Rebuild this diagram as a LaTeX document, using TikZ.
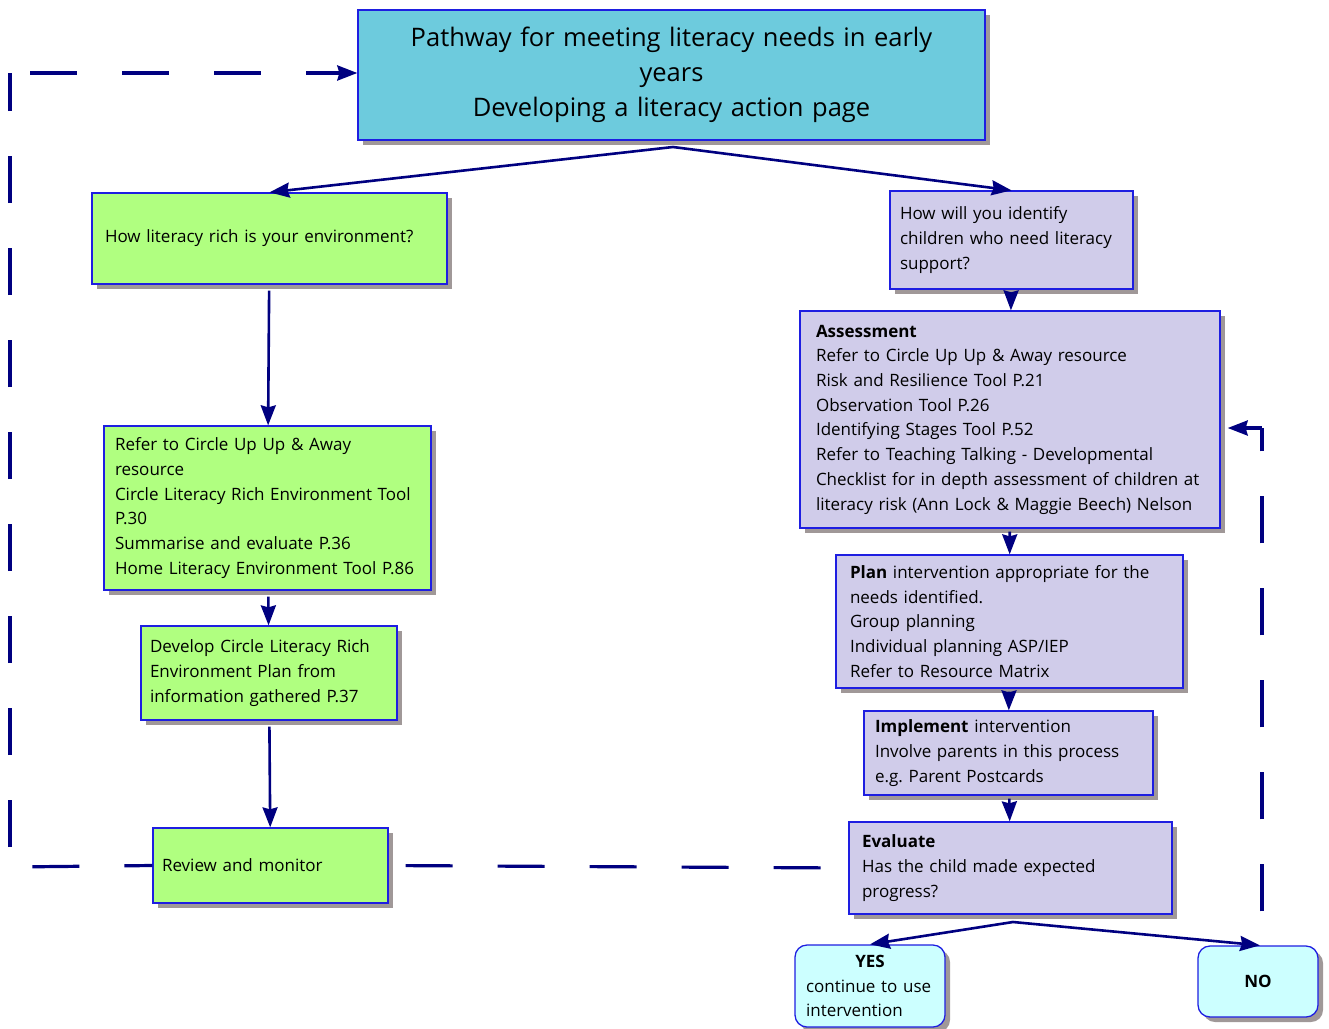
\documentclass[tikz,border=0pt]{standalone}
\usepackage{fontspec}
\setmainfont{Open Sans}
\usepackage{tikz}
\usetikzlibrary{arrows.meta, shadows}
\usepackage{xcolor}

\definecolor{titlecyan}{RGB}{109,203,221}
\definecolor{envgreen}{RGB}{176,255,128}
\definecolor{lilac}{RGB}{208,204,234}
\definecolor{answercyan}{RGB}{204,255,255}
\definecolor{boxline}{RGB}{30,30,225}
\definecolor{navy}{RGB}{0,0,128}
\definecolor{shadowgray}{RGB}{160,152,152}

\begin{document}
\begin{tikzpicture}[x=1pt,y=-1pt,font=\fontsize{17}{24.7}\selectfont]
    \tikzstyle{box}=[rectangle,draw=boxline,line width=1.3pt,align=left,inner ysep=0pt,
        drop shadow={shadow xshift=5pt,shadow yshift=-5pt,fill=shadowgray,opacity=1}]
    \tikzstyle{greenbox}=[box,fill=envgreen]
    \tikzstyle{lilacbox}=[box,fill=lilac]
    \tikzstyle{answer}=[box,fill=answercyan,rounded corners=12pt]
    \tikzstyle{flow}=[draw=navy,line width=2.6pt,-{Stealth[inset=2pt,length=20pt,width=15pt]}]
    \tikzstyle{loopback}=[draw=navy,line width=3.2pt,dash pattern=on 47pt off 45pt]

    \useasboundingbox (0,0) rectangle (1329,1028);

    \node[box,fill=titlecyan,align=center,minimum width=627pt,minimum height=130pt,
        text width=600pt,font=\fontsize{25.5}{35}\selectfont] (title) at (671.5,75)
        {Pathway for meeting literacy needs in early\\years\\Developing a literacy action page};

    % left branch
    \node[greenbox,minimum width=355pt,minimum height=91pt,inner xsep=13pt,text width=329pt]
        (envq) at (269.5,238.5) {How literacy rich is your environment?};
    \node[greenbox,minimum width=327pt,minimum height=164pt,inner xsep=11pt,text width=305pt]
        (refer) at (267.5,508) {Refer to Circle Up Up \& Away\\resource\\Circle Literacy Rich Environment Tool\\P.30\\Summarise and evaluate P.36\\Home Literacy Environment Tool P.86};
    \node[greenbox,minimum width=256pt,minimum height=94pt,inner xsep=9pt,text width=238pt]
        (develop) at (269,673) {Develop Circle Literacy Rich\\Environment Plan from\\information gathered P.37};
    \node[greenbox,minimum width=235pt,minimum height=75pt,inner xsep=9pt,text width=217pt]
        (review) at (270.5,865.5) {Review and monitor};

    % right branch
    \node[lilacbox,minimum width=243pt,minimum height=98pt,inner xsep=10pt,text width=223pt]
        (identify) at (1011.5,240) {How will you identify\\children who need literacy\\support?};
    \node[lilacbox,minimum width=420pt,minimum height=217pt,inner xsep=16pt,text width=388pt]
        (assess) at (1010,419.5) {\textbf{Assessment}\\Refer to Circle Up Up \& Away resource\\Risk and Resilience Tool P.21\\Observation Tool P.26\\Identifying Stages Tool P.52\\Refer to Teaching Talking - Developmental\\Checklist for in depth assessment of children at\\literacy risk (Ann Lock \& Maggie Beech) Nelson};
    \node[lilacbox,minimum width=347pt,minimum height=133pt,inner xsep=14pt,text width=319pt]
        (plan) at (1009.5,621.5) {\textbf{Plan} intervention appropriate for the\\needs identified.\\Group planning\\Individual planning ASP/IEP\\Refer to Resource Matrix};
    \node[lilacbox,minimum width=289pt,minimum height=84pt,inner xsep=11pt,text width=267pt]
        (impl) at (1008.5,753) {\textbf{Implement} intervention\\Involve parents in this process\\e.g.\ Parent Postcards};
    \node[lilacbox,minimum width=323pt,minimum height=92pt,inner xsep=13pt,text width=297pt]
        (eval) at (1010.5,868) {\textbf{Evaluate}\\Has the child made expected\\progress?};

    \node[answer,minimum width=150pt,minimum height=82pt,inner xsep=11pt,text width=128pt]
        (yes) at (870,986) {\makebox[128pt]{\textbf{YES}}\\continue to use\\intervention};
    \node[answer,align=center,minimum width=120pt,minimum height=71pt]
        (no) at (1258,981.5) {\textbf{NO}};

    \coordinate (tsplit) at (673,147);
    \coordinate (esplit) at (1013,922);
    \coordinate (lbot) at (10,867);
    \coordinate (ltop) at (10,73);
    \coordinate (rtop) at (1262,428);

    \path
    (tsplit) edge[flow] (envq.north)
    (tsplit) edge[flow] (identify.north)
    (esplit) edge[flow] (yes.north)
    (esplit) edge[flow] ([xshift=2pt]no.north)
    (envq) edge[flow,shorten <=6pt] (refer)
    (refer) edge[flow,shorten <=6pt] (develop)
    (develop) edge[flow,shorten <=6pt] (review)
    (identify) edge[flow,shorten <=3pt] (assess)
    (assess) edge[flow,shorten <=3pt] (plan)
    (plan) edge[flow,shorten <=3pt] (impl)
    (impl) edge[flow,shorten <=3pt] (eval)
    ;

    % dashed loops
    \draw[loopback,dash phase=19pt] (review.west) -- (lbot);
    \draw[loopback,dash phase=72pt] (lbot) -- (ltop);
    \draw[loopback,dash phase=72pt,-{Stealth[inset=2pt,length=20pt,width=15pt]}] (ltop) -- (title.west |- ltop);
    \draw[loopback,dash phase=75pt] (review.east) -- (eval.west);
    \draw[loopback,dash phase=58pt] (rtop |- no.north) -- (rtop);
    \draw[loopback,solid,shorten >=7pt,-{Stealth[inset=2pt,length=20pt,width=15pt]}] (rtop) -- (assess.east |- rtop);

\end{tikzpicture}
\end{document}
